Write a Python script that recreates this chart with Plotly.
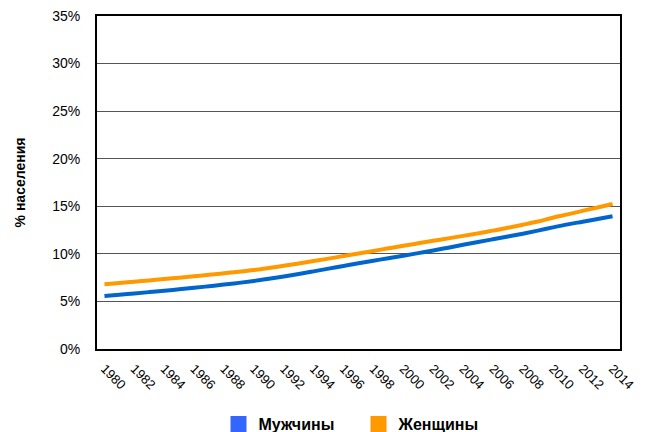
import plotly.graph_objects as go

years = list(range(1980, 2015))
men = [5.57, 5.70, 5.84, 5.98, 6.12, 6.27, 6.43, 6.60, 6.77, 6.95,
       7.15, 7.38, 7.62, 7.88, 8.16, 8.45, 8.73, 9.01, 9.28, 9.54,
       9.80, 10.08, 10.36, 10.65, 10.95, 11.25, 11.53, 11.82, 12.12, 12.44,
       12.78, 13.10, 13.38, 13.66, 13.95]
women = [6.80, 6.93, 7.07, 7.21, 7.35, 7.50, 7.65, 7.80, 7.96, 8.12,
         8.30, 8.52, 8.75, 8.99, 9.24, 9.50, 9.77, 10.04, 10.31, 10.58,
         10.85, 11.11, 11.37, 11.63, 11.89, 12.15, 12.44, 12.74, 13.06, 13.40,
         13.80, 14.15, 14.52, 14.88, 15.24]
tick_years = list(range(1980, 2015, 2))
y_ticks = [0, 5, 10, 15, 20, 25, 30, 35]
y_labels = [f"{v}%" for v in y_ticks]
names = ["Мужчины", "Женщины"]
line_colors = ["#0066CC", "#FF9900"]
legend_colors = ["#3366FF", "#FF9900"]

fig = go.Figure()
for vals, name, col in zip([men, women], names, line_colors):
    fig.add_trace(go.Scatter(x=years, y=vals, mode="lines", name=name,
                             line=dict(color=col, width=4, shape="spline"),
                             showlegend=False))
for name, col in zip(names, legend_colors):
    fig.add_trace(go.Scatter(x=[None], y=[None], mode="markers", name=name,
                             marker=dict(symbol="square", size=16, color=col),
                             showlegend=True))

font = "Liberation Sans, Arial, sans-serif"
fig.update_layout(
    width=649, height=432,
    margin=dict(l=97, r=29, t=16, b=83),
    paper_bgcolor="white", plot_bgcolor="white",
    font=dict(family=font, color="#000000"),
    showlegend=True,
    legend=dict(orientation="h", x=0.5, xanchor="center", xref="paper",
                y=1 - 424 / 432, yanchor="middle", yref="container",
                font=dict(size=16, family=font, weight="bold"),
                itemwidth=30, tracegroupgap=0,
                entrywidth=95, entrywidthmode="pixels"),
    xaxis=dict(range=[1979.5, 2014.5], tickmode="array", tickvals=tick_years,
               ticktext=[str(y) for y in tick_years], tickangle=45,
               tickfont=dict(size=13), showgrid=False, zeroline=False,
               showline=True, linecolor="black", linewidth=2, mirror=True,
               ticks="", ticklabelstandoff=5, automargin=False),
    yaxis=dict(range=[0, 35], tickmode="array", tickvals=y_ticks, ticktext=y_labels,
               tickfont=dict(size=14), showgrid=True, gridcolor="#555555", gridwidth=1,
               zeroline=False, showline=True, linecolor="black", linewidth=2, mirror=True,
               ticks="", ticklabelstandoff=12, automargin=False,
               title=dict(text="% населения", font=dict(size=14, weight="bold"), standoff=23)),
)
fig.write_html("out.html", config={"displayModeBar": False},
               post_script="document.body.style.margin='0px';document.body.style.overflow='hidden';")
